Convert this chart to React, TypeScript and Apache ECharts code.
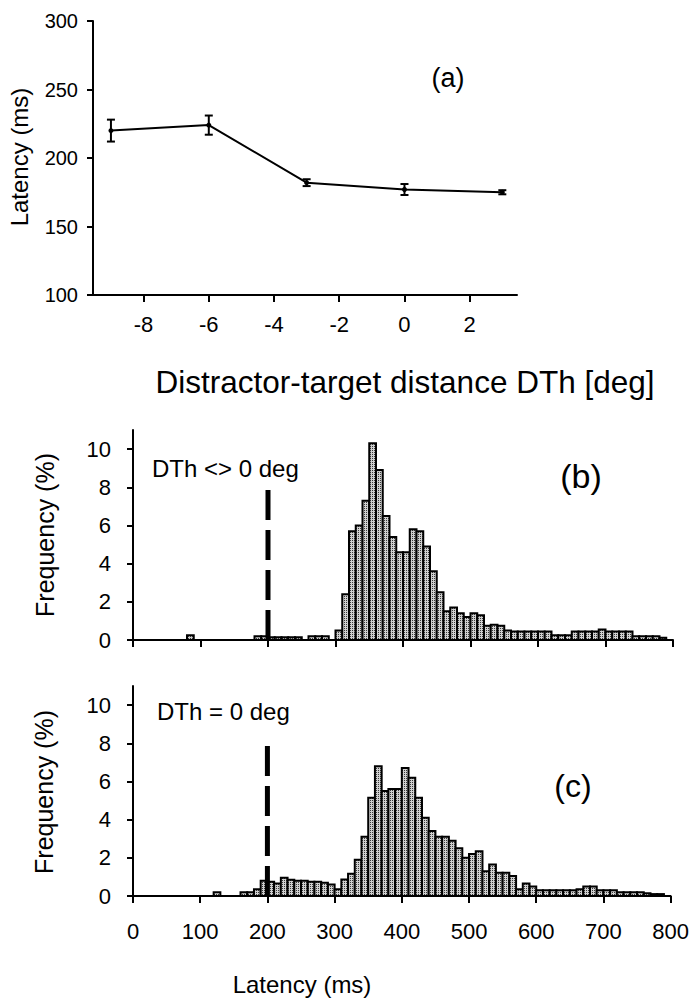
import React, { useEffect, useRef } from "react";
import * as echarts from "echarts";

// ---------- Panel (a) data ----------
const dthValues = [-9, -6, -3, 0, 3];
const latencyMeans = [220, 224, 182, 177, 175];
const latencyErrors = [8, 7, 2.5, 4, 1.5];
const aXTicks = [-8, -6, -4, -2, 0, 2];

// ---------- Panel (b) histogram (DTh <> 0 deg) ----------
const BIN_WIDTH = 10;
const binsB = [
  80, 180, 190, 200, 210, 220, 230, 240, 260, 270, 280,
  300, 310, 320, 330, 340, 350, 360, 370, 380, 390,
  400, 410, 420, 430, 440, 450, 460, 470, 480, 490,
  500, 510, 520, 530, 540, 550, 560, 570, 580, 590,
  600, 610, 620, 630, 640, 650, 660, 670, 680, 690,
  700, 710, 720, 730, 740, 750, 760, 770, 780,
];
const freqB = [
  0.25, 0.2, 0.2, 0.15, 0.15, 0.15, 0.15, 0.15, 0.2, 0.2, 0.2,
  0.5, 2.4, 5.7, 6.0, 7.3, 10.3, 8.9, 6.5, 5.4, 4.6,
  4.6, 5.8, 5.7, 4.9, 3.6, 2.5, 1.5, 1.7, 1.4, 1.2,
  1.4, 1.3, 0.75, 0.8, 0.75, 0.5, 0.45, 0.45, 0.45, 0.45,
  0.45, 0.45, 0.25, 0.25, 0.25, 0.45, 0.45, 0.45, 0.45, 0.55,
  0.45, 0.45, 0.45, 0.45, 0.2, 0.2, 0.2, 0.2, 0.12,
];

// ---------- Panel (c) histogram (DTh = 0 deg) ----------
const binsC = [
  120, 160, 170, 180, 190,
  200, 210, 220, 230, 240, 250, 260, 270, 280, 290,
  300, 310, 320, 330, 340, 350, 360, 370, 380, 390,
  400, 410, 420, 430, 440, 450, 460, 470, 480, 490,
  500, 510, 520, 530, 540, 550, 560, 570, 580, 590,
  600, 610, 620, 630, 640, 650, 660, 670, 680, 690,
  700, 710, 720, 730, 740, 750, 760, 770, 780,
];
const freqC = [
  0.2, 0.2, 0.2, 0.35, 0.8,
  0.75, 0.66, 0.95, 0.85, 0.8, 0.8, 0.75, 0.75, 0.7, 0.6,
  0.35, 0.87, 1.17, 1.9, 3.1, 5.15, 6.8, 5.5, 5.6, 5.6,
  6.7, 6.2, 5.15, 4.1, 3.4, 3.1, 3.1, 2.9, 2.5, 2.0,
  2.2, 2.35, 1.3, 1.65, 1.22, 1.22, 1.05, 0.35, 0.65, 0.5,
  0.3, 0.3, 0.3, 0.3, 0.3, 0.3, 0.35, 0.5, 0.5, 0.3,
  0.3, 0.3, 0.2, 0.2, 0.2, 0.2, 0.15, 0.1, 0.1,
];

const histYTicks = [0, 2, 4, 6, 8, 10];
const cutoffLatency = 200;
const cutoffTopB = 8.1;
const cutoffTopC = 8.2;

const FONT = "'Liberation Sans', Arial, Helvetica, sans-serif";

function makeStipple(): string {
  const c = document.createElement("canvas");
  c.width = 2;
  c.height = 2;
  const ctx = c.getContext("2d");
  if (!ctx) return "";
  ctx.fillStyle = "#d0d0d0";
  ctx.fillRect(0, 0, 2, 2);
  ctx.fillStyle = "#3a3a3a";
  ctx.fillRect(0, 0, 1, 1);
  return c.toDataURL();
}

export default function App() {
  const ref = useRef<HTMLDivElement>(null);

  useEffect(() => {
    if (!ref.current) return;
    const chart = echarts.init(ref.current, undefined, { renderer: "svg" });
    const stipple = makeStipple();
    const barFill: any = stipple
      ? { image: stipple, repeat: "repeat", imageWidth: 2, imageHeight: 2 }
      : "#bfbfbf";

    const axisLineStyle = { lineStyle: { color: "#000", width: 2 } };
    const tickStyle = { lineStyle: { color: "#000", width: 2 } };

    const histRender = (params: any, api: any) => {
      const x0 = api.value(0);
      const v = api.value(1);
      const p0 = api.coord([x0, 0]);
      const p1 = api.coord([x0 + BIN_WIDTH, v]);
      return {
        type: "rect",
        shape: { x: p0[0], y: p1[1], width: p1[0] - p0[0], height: p0[1] - p1[1] },
        style: { fill: barFill, stroke: "#000", lineWidth: 2 },
      };
    };

    const errRender = (params: any, api: any) => {
      const x = api.value(0);
      const lo = api.coord([x, api.value(1)]);
      const hi = api.coord([x, api.value(2)]);
      const cap = 4;
      const st = { stroke: "#000", lineWidth: 2 };
      return {
        type: "group",
        children: [
          { type: "line", shape: { x1: lo[0], y1: lo[1], x2: hi[0], y2: hi[1] }, style: st },
          { type: "line", shape: { x1: lo[0] - cap, y1: lo[1], x2: lo[0] + cap, y2: lo[1] }, style: st },
          { type: "line", shape: { x1: hi[0] - cap, y1: hi[1], x2: hi[0] + cap, y2: hi[1] }, style: st },
        ],
      };
    };

    const histYAxis = (gridIndex: number) => ({
      type: "value",
      gridIndex,
      min: 0,
      max: 11,
      splitLine: { show: false },
      axisLine: { show: true, onZero: false, ...axisLineStyle },
      axisTick: { show: true, length: 6, customValues: histYTicks, ...tickStyle },
      axisLabel: {
        customValues: histYTicks,
        margin: 22,
        fontSize: 22,
        color: "#000",
        fontFamily: FONT,
      },
    });

    const histXAxis = (gridIndex: number, showLabels: boolean) => ({
      type: "value",
      gridIndex,
      min: 0,
      max: 800,
      interval: 100,
      splitLine: { show: false },
      axisLine: { show: true, onZero: false, ...axisLineStyle },
      axisTick: { show: true, length: 7, ...tickStyle },
      axisLabel: {
        show: showLabels,
        margin: 24,
        fontSize: 22,
        color: "#000",
        fontFamily: FONT,
      },
    });

    const text = (
      t: string,
      x: number,
      y: number,
      size: number,
      align: string = "center",
      rotation = 0
    ) => ({
      type: "text",
      x,
      y,
      rotation,
      style: {
        text: t,
        fontSize: size,
        fontFamily: FONT,
        fill: "#000",
        align,
        verticalAlign: "middle",
      },
    });

    chart.setOption({
      animation: false,
      backgroundColor: "#fff",
      grid: [
        { left: 93, top: 21, width: 424, height: 274 },
        { left: 133, top: 430, width: 540, height: 210 },
        { left: 133, top: 686, width: 540, height: 210 },
      ],
      xAxis: [
        {
          type: "value",
          gridIndex: 0,
          min: -9.55,
          max: 3.45,
          splitLine: { show: false },
          axisLine: { show: true, onZero: false, ...axisLineStyle },
          axisTick: { show: true, length: 7, customValues: aXTicks, ...tickStyle },
          axisLabel: {
            customValues: aXTicks,
            margin: 18,
            fontSize: 22,
            color: "#000",
            fontFamily: FONT,
          },
        },
        histXAxis(1, false),
        histXAxis(2, true),
      ],
      yAxis: [
        {
          type: "value",
          gridIndex: 0,
          min: 100,
          max: 300,
          interval: 50,
          splitLine: { show: false },
          axisLine: { show: true, onZero: false, ...axisLineStyle },
          axisTick: { show: true, length: 6, ...tickStyle },
          axisLabel: { margin: 15, fontSize: 20, color: "#000", fontFamily: FONT },
        },
        histYAxis(1),
        histYAxis(2),
      ],
      series: [
        {
          type: "line",
          xAxisIndex: 0,
          yAxisIndex: 0,
          data: dthValues.map((d, i) => [d, latencyMeans[i]]),
          lineStyle: { color: "#000", width: 2 },
          itemStyle: { color: "#000" },
          symbol: "circle",
          symbolSize: 5,
        },
        {
          type: "custom",
          xAxisIndex: 0,
          yAxisIndex: 0,
          renderItem: errRender,
          data: dthValues.map((d, i) => [
            d,
            latencyMeans[i] - latencyErrors[i],
            latencyMeans[i] + latencyErrors[i],
          ]),
          encode: { x: 0, y: [1, 2] },
          z: 3,
        },
        {
          type: "custom",
          xAxisIndex: 1,
          yAxisIndex: 1,
          renderItem: histRender,
          data: binsB.map((b, i) => [b, freqB[i]]),
          encode: { x: 0, y: 1 },
        },
        {
          type: "custom",
          xAxisIndex: 2,
          yAxisIndex: 2,
          renderItem: histRender,
          data: binsC.map((b, i) => [b, freqC[i]]),
          encode: { x: 0, y: 1 },
        },
        {
          type: "line",
          xAxisIndex: 1,
          yAxisIndex: 1,
          data: [
            [cutoffLatency, 0],
            [cutoffLatency, cutoffTopB],
          ],
          symbol: "none",
          lineStyle: { color: "#000", width: 5, type: [30, 10] },
          z: 5,
        },
        {
          type: "line",
          xAxisIndex: 2,
          yAxisIndex: 2,
          data: [
            [cutoffLatency, 0],
            [cutoffLatency, cutoffTopC],
          ],
          symbol: "none",
          lineStyle: { color: "#000", width: 5, type: [30, 10] },
          z: 5,
        },
      ],
      graphic: [
        text("(a)", 448, 78, 27),
        text("Latency (ms)", 19, 157, 24, "center", Math.PI / 2),
        text("Distractor-target distance DTh [deg]", 405, 382, 31.5),
        text("Frequency (%)", 45, 535, 25, "center", Math.PI / 2),
        text("DTh <> 0 deg", 152, 468, 24, "left"),
        text("(b)", 581, 476, 34),
        text("Frequency (%)", 44, 792, 25, "center", Math.PI / 2),
        text("DTh = 0 deg", 157, 711, 24, "left"),
        text("(c)", 573, 786, 32),
        text("Latency (ms)", 302, 984, 24),
      ],
    });

    return () => {
      chart.dispose();
    };
  }, []);

  return (
    <div
      ref={ref}
      style={{ position: "fixed", left: 0, top: 0, width: 692, height: 1002, background: "#fff" }}
    />
  );
}
